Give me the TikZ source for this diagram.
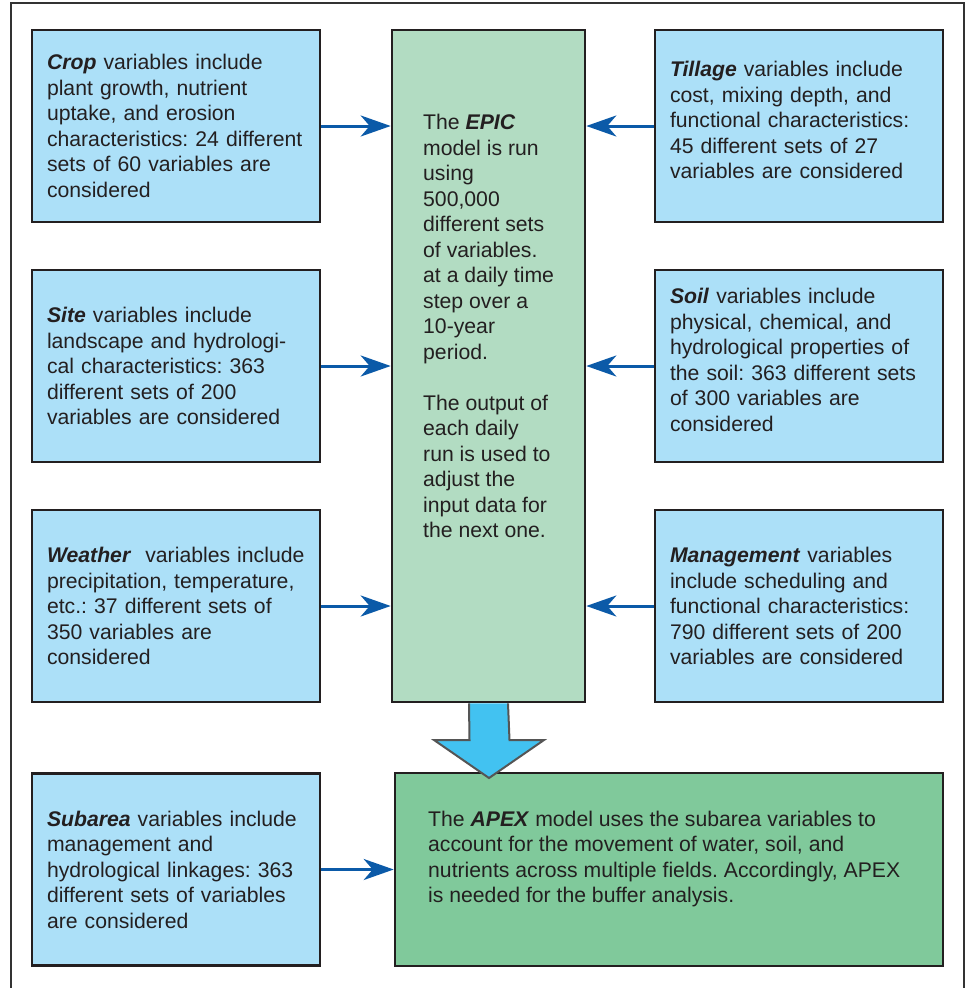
\documentclass[tikz,border=0pt]{standalone}
\usepackage{fontspec}
\setmainfont{Liberation Sans}
\usetikzlibrary{arrows.meta}
\definecolor{boxblue}{HTML}{ACE0F8}
\definecolor{epicgreen}{HTML}{B2DCC2}
\definecolor{apexgreen}{HTML}{80C99B}
\definecolor{arrowblue}{HTML}{0B5AA8}
\definecolor{bigblue}{HTML}{42C2F1}
\definecolor{ink}{HTML}{231F20}
\definecolor{frame}{HTML}{333333}
\definecolor{arrowedge}{HTML}{555555}
\newcommand{\bi}[1]{\textbf{\textit{#1}}}
\newcommand{\liftup}{\\[-13.5pt]\mbox{}}
\newcommand{\boxfont}{\fontsize{21.2}{25.5}\selectfont\frenchspacing\hyphenpenalty=10000\relax\exhyphenpenalty=10000\relax}
\begin{document}
\begin{tikzpicture}[x=1pt,y=-1pt,
  font=\boxfont,
  varbox/.style={draw=ink, line width=2.6pt, fill=boxblue, text=ink,
    minimum width=288pt, minimum height=192pt, text width=258pt,
    inner xsep=15pt, inner ysep=0pt, align=left},
  bigbox/.style={draw=ink, line width=2.6pt, inner sep=0pt},
  plain/.style={text=ink, inner sep=0pt, align=left, anchor=north west},
  conn/.style={draw=arrowblue, line width=3pt,
    -{Stealth[length=30pt,width=21pt,inset=9pt]}}
]
\useasboundingbox (0,0) rectangle (968,988);
% outer frame (open at bottom)
\draw[frame, line width=2pt] (11,990) -- (11,3) -- (964,3) -- (964,990);

% centre boxes
\node[bigbox, fill=epicgreen, minimum width=193pt, minimum height=672pt] (epic) at (488.5,366) {};
\node[bigbox, fill=apexgreen, minimum width=548pt, minimum height=193pt] (apex) at (669,869.5) {};

% left boxes
\node[varbox] (crop) at (176,126) {\bi{Crop} variables include\\plant growth, nutrient\\uptake, and erosion\\characteristics: 24 different\\sets of 60 variables are\\considered};
\node[varbox] (site) at (176,366) {\bi{Site} variables include\\landscape and hydrologi-\\cal characteristics: 363\\different sets of 200\\variables are considered};
\node[varbox] (weather) at (176,606) {\bi{Weather}~ variables include\\precipitation, temperature,\\etc.: 37 different sets of\\350 variables are\\considered};
\node[varbox] (subarea) at (176,869.5) {\bi{Subarea} variables include\\management and\\hydrological linkages: 363\\different sets of variables\\are considered};

% right boxes
\node[varbox] (tillage) at (799,126) {\bi{Tillage} variables include\\cost, mixing depth, and\\functional characteristics:\\45 different sets of 27\\variables are considered\liftup};
\node[varbox] (soil) at (799,366) {\bi{Soil} variables include\\physical, chemical, and\\hydrological properties of\\the soil: 363 different sets\\of 300 variables are\\considered\liftup};
\node[varbox] (mgmt) at (799,606) {\bi{Management} variables\\include scheduling and\\functional characteristics:\\790 different sets of 200\\variables are considered};

% texts of centre boxes
\node[plain] (epictext) at (423,114) {The \bi{EPIC}\\model is run\\using\\500,000\\different sets\\of variables.\\at a daily time\\step over a\\10-year\\period.\\[25.5pt]The output of\\each daily\\run is used to\\adjust the\\input data for\\the next one.};
\node[plain] (apextext) at (428,810.5) {The \bi{APEX} model uses the subarea variables to\\account for the movement of water, soil, and\\nutrients across multiple fields. Accordingly, APEX\\is needed for the buffer analysis.};

% connectors
\draw[conn] (crop.east) -- (epic.west |- crop.east);
\draw[conn] (site.east) -- (epic.west |- site.east);
\draw[conn] (weather.east) -- (epic.west |- weather.east);
\draw[conn] (tillage.west) -- (epic.east |- tillage.west);
\draw[conn] (soil.west) -- (epic.east |- soil.west);
\draw[conn] (mgmt.west) -- (epic.east |- mgmt.west);
\draw[conn] (subarea.east) -- (apex.west |- subarea.east);

% big arrow from EPIC to APEX
\coordinate (tip) at (489,778);
\filldraw[fill=bigblue, draw=arrowedge, line width=2pt, line join=miter]
  ([xshift=-19.5pt]epic.south) -- (469.5,740) -- (434,740) -- (tip) -- (544,740) -- (509.5,740) -- ([xshift=19.5pt]epic.south);
\end{tikzpicture}
\end{document}
